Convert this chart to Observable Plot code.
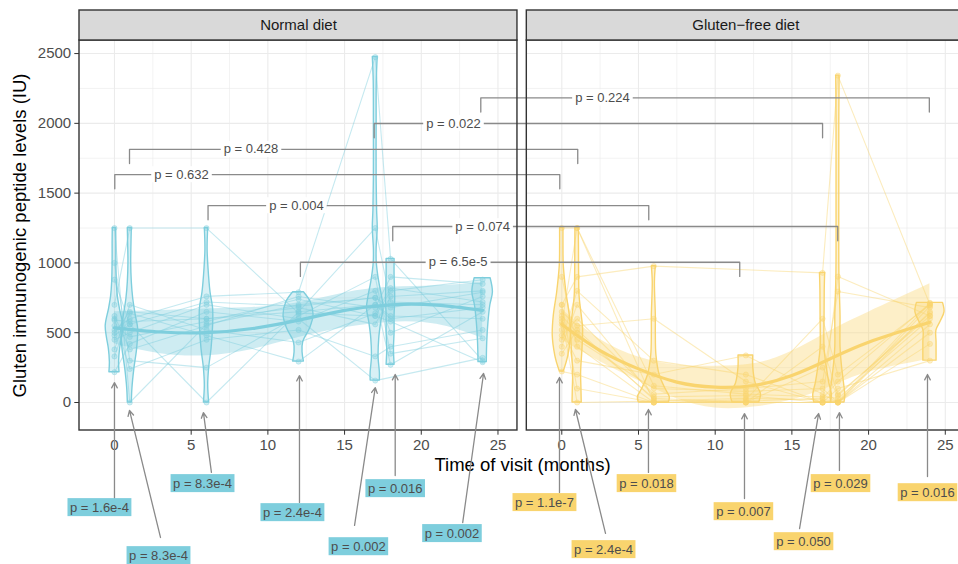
<!DOCTYPE html>
<html><head><meta charset="utf-8">
<script src="https://cdn.jsdelivr.net/npm/d3@7"></script>
<script src="https://cdn.jsdelivr.net/npm/@observablehq/plot@0.6"></script>
<style>
html,body{margin:0;padding:0;background:#fff;}
#chart svg{display:block;}
</style></head><body><div id="chart"></div>
<script>
// ---------- data ----------
const panels = ["Normal diet", "Gluten\u2212free diet"];
const visits = [0, 1, 6, 12, 17, 18, 24];

// patient trajectories (value at each visit; null = missing)
const normalPatients = [
  [700, 1250, 1250, 640, 620, 800, 880],
  [1250, 0, 560, 700, 750, 680, 790],
  [520, 600, 760, 790, 2475, 1029, 300],
  [880, 560, 0, 650, 1250, 720, 700],
  [450, 500, 700, 600, 157, null, 320],
  [620, 380, 550, 760, 680, 900, 850],
  [330, 640, 480, 293, 700, 620, 600],
  [217, 420, 650, 580, 800, 500, 760],
  [590, 580, 600, 680, 560, 760, 800],
  [600, 240, 450, 520, 330, 400, 520],
  [480, 560, 720, 690, 750, 270, 650],
  [380, 700, 520, 430, 640, 820, 720],
  [1000, 300, 250, 620, 900, 350, 460],
  [550, 470, 580, 740, 620, 580, 289],
  [500, 650, 600, 650, 700, 600, 680]
];
const glutenFreePatients = [
  [1250, 1250, 0, 0, 0, 0, 650],
  [700, 900, 977, null, 929, 2342, 700],
  [560, 1250, 120, 60, 40, 30, 600],
  [620, 500, 30, 0, 0, 902, 620],
  [480, 600, 60, 100, 150, 795, 680],
  [900, 400, 0, 20, 600, 200, 700],
  [520, 300, 200, 337, 60, 0, 560],
  [400, 700, 40, 50, 0, 0, 420],
  [650, 550, 600, 150, 0, 100, 300],
  [222, 200, 0, 0, 250, 50, 640],
  [580, 450, 100, 80, 100, 0, 690],
  [700, 100, 0, 10, 30, 150, 710],
  [450, 800, 300, 200, 0, 0, 500],
  [350, 520, 20, 0, 400, 60, 620],
  [600, 0, 10, 30, 20, 10, 714]
];

// violin profiles per visit: [value, half-width (months)]
const normalViolins = [
  [[217,0.33],[289,0.3],[387,0.37],[470,0.5],[551,0.57],[673,0.35],[760,0.22],[862,0.15],[1030,0.12],[1150,0.12],[1250,0.11]],
  [[0,0.13],[100,0.17],[244,0.3],[387,0.48],[530,0.54],[623,0.39],[745,0.22],[862,0.13],[1000,0.09],[1150,0.11],[1250,0.13]],
  [[0,0.17],[122,0.11],[244,0.17],[387,0.33],[551,0.43],[673,0.43],[790,0.26],[960,0.13],[1100,0.07],[1250,0.11]],
  [[293,0.35],[360,0.26],[432,0.3],[528,0.74],[623,0.98],[718,0.8],[790,0.35]],
  [[157,0.3],[217,0.3],[315,0.22],[458,0.26],[575,0.39],[673,0.54],[766,0.43],[862,0.26],[1000,0.1],[1100,0.09],[1250,0.16],[1375,0.12],[1600,0.09],[2000,0.09],[2300,0.1],[2475,0.16]],
  [[270,0.26],[385,0.22],[504,0.26],[623,0.26],[745,0.3],[910,0.26],[1029,0.26]],
  [[289,0.27],[432,0.3],[575,0.38],[695,0.5],[790,0.67],[890,0.52]]
];
const glutenFreeViolins = [
  [[222,0.13],[280,0.3],[337,0.43],[480,0.59],[623,0.52],[790,0.3],[981,0.13],[1120,0.11],[1250,0.11]],
  [[0,0.3],[100,0.28],[217,0.26],[387,0.35],[528,0.39],[623,0.3],[760,0.16],[900,0.13],[1100,0.12],[1250,0.11]],
  [[0,0.98],[38,1.04],[98,0.76],[193,0.39],[337,0.17],[500,0.13],[623,0.13],[862,0.07],[977,0.13]],
  [[0,0.87],[62,0.98],[134,0.65],[253,0.48],[337,0.48]],
  [[0,0.54],[50,0.61],[145,0.43],[265,0.26],[384,0.13],[623,0.13],[800,0.14],[929,0.17]],
  [[0,0.43],[50,0.48],[145,0.39],[265,0.26],[400,0.17],[623,0.17],[900,0.1],[1500,0.09],[2000,0.09],[2342,0.11]],
  [[300,0.43],[432,0.43],[516,0.42],[580,0.7],[647,0.95],[714,0.85]]
];

// loess smooth with confidence band
const normalSmoothT = [0, 3, 6, 9, 12, 15, 18, 21, 24];
const normalFit = [535, 505, 500, 530, 590, 660, 700, 698, 660];
const normalLo  = [420, 350, 335, 380, 465, 535, 575, 560, 460];
const normalHi  = [650, 660, 670, 680, 715, 785, 825, 836, 860];
const gfSmoothT = [0, 2.5, 5, 7.5, 10, 12.5, 15, 17.5, 20, 24];
const gfFit = [559, 372, 241, 146, 110, 122, 193, 313, 432, 575];
const gfLo  = [449, 292, 156, 26, -40, -33, 18, 113, 217, 310];
const gfHi  = [669, 452, 326, 266, 260, 277, 368, 513, 647, 850];

// between-diet comparison brackets
const bracketText = ["p = 0.632", "p = 0.428", "p = 0.022", "p = 0.224", "p = 0.004", "p = 0.074", "p = 6.5e-5"];
const bracketNormalT = [0.02, 0.98, 16.93, 23.88, 6.1, 18.14, 12.12];
const bracketGfT = [-0.13, 1.04, 17.0, 23.96, 5.67, 17.99, 11.6];
const bracketY = [1633, 1814, 1999, 2183, 1411, 1261, 1005];
const bracketLabelPanel = [0, 0, 0, 1, 0, 0, 0];
const bracketLabelT = [4.37, 8.9, 22.1, 2.65, 11.86, 24.0, 22.4];

// within-diet labels with arrows
const normalLabelText = ["p = 1.6e-4", "p = 8.3e-4", "p = 8.3e-4", "p = 2.4e-4", "p = 0.002", "p = 0.016", "p = 0.002"];
const normalLabelT = [-0.98, 2.87, 5.74, 11.6, 15.9, 18.3, 22.0];
const normalLabelV = [-752, -1096, -580, -788, -1032, -616, -938];
const normalTailT = [0, 3.0, 6.32, 12.06, 15.65, 18.3, 22.7];
const normalTailV = [-688, -967, -501, -716, -881, -523, -860];
const normalTipT = [0, 0.98, 5.8, 12.06, 17.0, 18.3, 24.06];
const normalTipV = [143, -57, -72, 193, 107, 201, 208];

const gfLabelText = ["p = 1.1e-7", "p = 2.4e-4", "p = 0.018", "p = 0.007", "p = 0.050", "p = 0.029", "p = 0.016"];
const gfLabelT = [-1.13, 2.72, 5.52, 11.84, 15.76, 18.17, 23.84];
const gfLabelV = [-716, -1053, -580, -781, -996, -580, -645];
const gfTailT = [-0.15, 2.85, 5.65, 11.91, 15.5, 18.1, 23.84];
const gfTailV = [-645, -938, -501, -688, -903, -487, -530];
const gfTipT = [-0.15, 0.89, 5.65, 11.91, 16.74, 18.1, 23.84];
const gfTipV = [179, -50, -50, -79, -79, -72, 201];

const xTicks = [0, 5, 10, 15, 20, 25];
const xMinor = [2.5, 7.5, 12.5, 17.5, 22.5];
const yTicks = [0, 500, 1000, 1500, 2000, 2500];
const yMinor = [250, 750, 1250, 1750, 2250];

// ---------- layout ----------
const COLORS = ["#7ECEDD", "#F9D46E"];
const OFF = 29.16;                  // horizontal offset of second panel (months)
const T_MIN = -2.28, T_MAX = 26.27; // panel x limits
const V_MIN = -200.6, V_MAX = 2593.6;
const W = 958, H = 564, ML = 79, MT = 40, MB = 134;
const PX_PER_T = 15.34;
const pxPerV = (H - MT - MB) / (V_MAX - V_MIN);
const STRIP_TOP = V_MAX + 30 / pxPerV;
const TICK_DROP = 102;
const u = (p, t) => t + p * OFF;
const X_MAX = u(1, T_MAX);

const patientsAll = [normalPatients, glutenFreePatients];
const violinsAll = [normalViolins, glutenFreeViolins];
const smoothAll = [
  [normalSmoothT, normalFit, normalLo, normalHi],
  [gfSmoothT, gfFit, gfLo, gfHi]
];
const labelsAll = [
  [normalLabelText, normalLabelT, normalLabelV, normalTailT, normalTailV, normalTipT, normalTipV],
  [gfLabelText, gfLabelT, gfLabelV, gfTailT, gfTailV, gfTipT, gfTipV]
];

const panelRows = panels.map((name, p) => ({name, p, x1: u(p, T_MIN), x2: u(p, T_MAX), xm: u(p, (T_MIN + T_MAX) / 2)}));
const gridXMajor = [], gridXMinor = [], gridYMajor = [], gridYMinor = [];
panels.forEach((_, p) => {
  xTicks.forEach(t => gridXMajor.push(u(p, t)));
  xMinor.forEach(t => gridXMinor.push(u(p, t)));
  yTicks.forEach(v => gridYMajor.push({v, x1: u(p, T_MIN), x2: u(p, T_MAX)}));
  yMinor.forEach(v => gridYMinor.push({v, x1: u(p, T_MIN), x2: u(p, T_MAX)}));
});

const bracketPaths = [];
bracketText.forEach((txt, i) => {
  const a = u(0, bracketNormalT[i]), b = u(1, bracketGfT[i]), y = bracketY[i];
  bracketPaths.push({id: i, x: a, y: y - TICK_DROP}, {id: i, x: a, y}, {id: i, x: b, y}, {id: i, x: b, y: y - TICK_DROP});
});
const bracketLabels = bracketText.map((text, i) => ({text, x: u(bracketLabelPanel[i], bracketLabelT[i]), y: bracketY[i]}));

function panelMarks(p) {
  const col = COLORS[p];
  const pts = [];
  patientsAll[p].forEach((vals, id) => vals.forEach((v, j) => {
    if (v != null) pts.push({id, x: u(p, visits[j]), v});
  }));
  const vio = [];
  violinsAll[p].forEach((prof, j) => prof.forEach(([v, w]) => {
    vio.push({g: j, v, x1: u(p, visits[j] - w), x2: u(p, visits[j] + w)});
  }));
  const [st, fit, lo, hi] = smoothAll[p];
  const sm = st.map((t, i) => ({x: u(p, t), fit: fit[i], lo: lo[i], hi: hi[i]}));
  return [
    Plot.line(pts, {x: "x", y: "v", z: "id", stroke: col, strokeOpacity: 0.45, strokeWidth: 1.1}),
    Plot.areaX(vio, {y: "v", x1: "x1", x2: "x2", z: "g", fill: col, fillOpacity: 0.3, stroke: col, strokeWidth: 1.4, curve: "catmull-rom"}),
    Plot.dot(pts, {x: "x", y: "v", r: 2.6, fill: col, fillOpacity: 0.35, stroke: col, strokeOpacity: 0.45, strokeWidth: 0.8}),
    Plot.areaY(sm, {x: "x", y1: "lo", y2: "hi", fill: col, fillOpacity: 0.38, curve: "natural"}),
    Plot.line(sm, {x: "x", y: "fit", stroke: col, strokeWidth: 3.2, curve: "natural"})
  ];
}

function labelMarks(p) {
  const [txt, lt, lv, tt, tv, pt, pv] = labelsAll[p];
  const rows = txt.map((text, i) => ({text, x: u(p, lt[i]), y: lv[i], x1: u(p, tt[i]), y1: tv[i], x2: u(p, pt[i]), y2: pv[i]}));
  return [
    Plot.arrow(rows, {x1: "x1", y1: "y1", x2: "x2", y2: "y2", stroke: "#8A8A8A", strokeWidth: 1.3, headLength: 7, headAngle: 55}),
    Plot.text(rows, {x: "x", y: "y", text: "text", fontSize: 13, fill: "#4D4D4D", ariaDescription: "plabel-" + p})
  ];
}

const chart = Plot.plot({
  width: W, height: H,
  marginLeft: ML, marginRight: 0, marginTop: MT, marginBottom: MB,
  style: {fontFamily: "'Liberation Sans', Arial, Helvetica, sans-serif", fontSize: "13px", background: "white"},
  x: {domain: [T_MIN, X_MAX], range: [ML, ML + (X_MAX - T_MIN) * PX_PER_T]},
  y: {domain: [V_MIN, V_MAX]},
  marks: [
    // grid
    Plot.ruleX(gridXMinor, {x: d => d, y1: V_MIN, y2: V_MAX, stroke: "#EBEBEB", strokeWidth: 0.6}),
    Plot.ruleY(gridYMinor, {y: "v", x1: "x1", x2: "x2", stroke: "#EBEBEB", strokeWidth: 0.6}),
    Plot.ruleX(gridXMajor, {x: d => d, y1: V_MIN, y2: V_MAX, stroke: "#EBEBEB", strokeWidth: 1.1}),
    Plot.ruleY(gridYMajor, {y: "v", x1: "x1", x2: "x2", stroke: "#EBEBEB", strokeWidth: 1.1}),
    // data
    ...panelMarks(0),
    ...panelMarks(1),
    // brackets
    Plot.line(bracketPaths, {x: "x", y: "y", z: "id", stroke: "#8A8A8A", strokeWidth: 1.3}),
    Plot.text(bracketLabels, {x: "x", y: "y", text: "text", fontSize: 13, fill: "#4D4D4D", ariaDescription: "blabel"}),
    // panel frames and strips
    Plot.rect(panelRows, {x1: "x1", x2: "x2", y1: V_MIN, y2: V_MAX, fill: "none", stroke: "#333", strokeWidth: 1.4}),
    Plot.rect(panelRows, {x1: "x1", x2: "x2", y1: V_MAX, y2: STRIP_TOP, fill: "#D9D9D9", stroke: "#333", strokeWidth: 1.4}),
    Plot.text(panelRows, {x: "xm", y: (V_MAX + STRIP_TOP) / 2, text: "name", fontSize: 15, fill: "#1A1A1A"}),
    // axes
    Plot.axisY({ticks: yTicks, tickFormat: d => String(d), tickSize: 4.7, tickPadding: 3.6, fontSize: 15, color: "#4D4D4D", stroke: "#333", label: null}),
    Plot.axisX({ticks: panels.flatMap((_, p) => xTicks.map(t => u(p, t))), tickFormat: d => String(Math.round(d > T_MAX ? d - OFF : d)),
      tickSize: 4.7, tickPadding: 3.7, fontSize: 15, color: "#4D4D4D", stroke: "#333", label: null}),
    Plot.text(["Time of visit (months)"], {text: d => d, frameAnchor: "bottom", lineAnchor: "middle", textAnchor: "middle", dx: 3.5, dy: 35, fontSize: 18.5, fill: "black"}),
    Plot.text(["Gluten immunogenic peptide levels (IU)"], {text: d => d, frameAnchor: "left", lineAnchor: "middle", textAnchor: "middle", rotate: -90, dx: -59, fontSize: 18.5, fill: "black"}),
    // within-diet p-value labels
    ...labelMarks(0),
    ...labelMarks(1)
  ]
});

document.getElementById("chart").append(chart);

// label backgrounds
const NS = "http://www.w3.org/2000/svg";
function boxes(desc, fill, px, py) {
  chart.querySelectorAll(`g[aria-description="${desc}"] text`).forEach(t => {
    const b = t.getBBox();
    const r = document.createElementNS(NS, "rect");
    r.setAttribute("x", b.x - px);
    r.setAttribute("y", b.y - py);
    r.setAttribute("width", b.width + 2 * px);
    r.setAttribute("height", b.height + 2 * py);
    r.setAttribute("fill", fill);
    const tr = t.getAttribute("transform");
    if (tr) r.setAttribute("transform", tr);
    t.parentNode.insertBefore(r, t);
  });
}
boxes("plabel-0", COLORS[0], 2.5, 1.5);
boxes("plabel-1", COLORS[1], 2.5, 1.5);
boxes("blabel", "white", 3, 0.5);
</script>
</body></html>
